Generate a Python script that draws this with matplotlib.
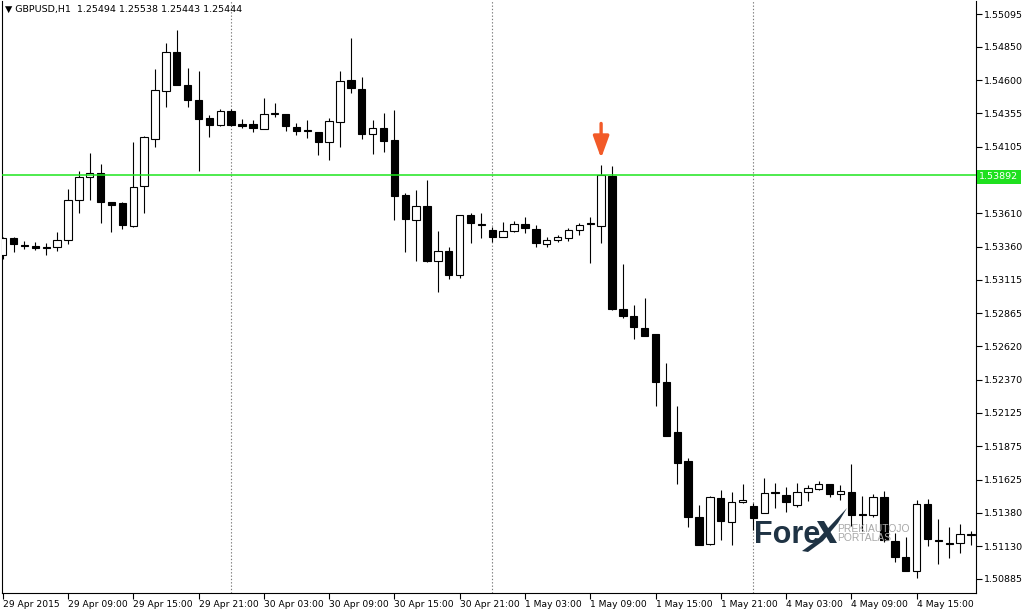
import numpy as np
import matplotlib.pyplot as plt
from matplotlib.patches import Rectangle, Polygon
import matplotlib.transforms as mtransforms

# GBPUSD H1 candles, first bar = 29 Apr 2015 03:00
opens = [1.53299, 1.53426, 1.53377, 1.53366, 1.53362, 1.53359, 1.53411, 1.53709, 1.53881, 1.53911,
         1.53694, 1.53687, 1.53515, 1.53813, 1.54164, 1.54521, 1.54812, 1.54566, 1.54454, 1.54320,
         1.54268, 1.54373, 1.54272, 1.54275, 1.54238, 1.54350, 1.54350, 1.54253, 1.54227, 1.54216,
         1.54141, 1.54290, 1.54603, 1.54536, 1.54201, 1.54245, 1.54156, 1.53746, 1.53560, 1.53664,
         1.53254, 1.53329, 1.53150, 1.53594, 1.53530, 1.53486, 1.53434, 1.53478, 1.53530, 1.53493,
         1.53381, 1.53411, 1.53426, 1.53486, 1.53534, 1.53515, 1.53888, 1.52896, 1.52844, 1.52755,
         1.52710, 1.52353, 1.51980, 1.51764, 1.51347, 1.51146, 1.51489, 1.51310, 1.51459, 1.51429,
         1.51377, 1.51533, 1.51511, 1.51436, 1.51533, 1.51556, 1.51593, 1.51518, 1.51533, 1.51369,
         1.51362, 1.51496, 1.51168, 1.51049, 1.50945, 1.51444, 1.51172, 1.51153, 1.51153, 1.51217]
highs = [1.53434, 1.53434, 1.53404, 1.53396, 1.53389, 1.53471, 1.53791, 1.53926, 1.54060, 1.53977,
         1.53697, 1.53694, 1.54141, 1.54184, 1.54685, 1.54879, 1.54976, 1.54692, 1.54671, 1.54343,
         1.54387, 1.54387, 1.54313, 1.54305, 1.54469, 1.54432, 1.54352, 1.54283, 1.54305, 1.54218,
         1.54320, 1.54671, 1.54916, 1.54625, 1.54305, 1.54358, 1.54380, 1.53761, 1.53784, 1.53858,
         1.53478, 1.53359, 1.53600, 1.53613, 1.53613, 1.53508, 1.53545, 1.53553, 1.53583, 1.53523,
         1.53434, 1.53449, 1.53501, 1.53538, 1.53583, 1.53970, 1.53963, 1.53232, 1.52926, 1.52979,
         1.52712, 1.52494, 1.52174, 1.51787, 1.51436, 1.51501, 1.51548, 1.51533, 1.51593, 1.51451,
         1.51638, 1.51600, 1.51571, 1.51600, 1.51586, 1.51615, 1.51595, 1.51586, 1.51742, 1.51504,
         1.51518, 1.51541, 1.51228, 1.51198, 1.51474, 1.51481, 1.51332, 1.51272, 1.51295, 1.51243]
lows = [1.53269, 1.53321, 1.53344, 1.53336, 1.53299, 1.53329, 1.53381, 1.53613, 1.53709, 1.53538,
        1.53471, 1.53493, 1.53508, 1.53613, 1.54104, 1.54402, 1.54563, 1.54402, 1.53926, 1.54179,
        1.54260, 1.54264, 1.54245, 1.54216, 1.54236, 1.54328, 1.54223, 1.54194, 1.54171, 1.54045,
        1.54007, 1.54104, 1.54506, 1.54164, 1.54052, 1.54067, 1.53560, 1.53321, 1.53254, 1.53247,
        1.53023, 1.53120, 1.53128, 1.53389, 1.53426, 1.53396, 1.53430, 1.53471, 1.53463, 1.53359,
        1.53359, 1.53396, 1.53404, 1.53449, 1.53240, 1.53389, 1.52893, 1.52829, 1.52673, 1.52693,
        1.52174, 1.51948, 1.51593, 1.51272, 1.51135, 1.51138, 1.51176, 1.51138, 1.51451, 1.51250,
        1.51375, 1.51414, 1.51384, 1.51421, 1.51466, 1.51548, 1.51496, 1.51474, 1.51280, 1.51243,
        1.51347, 1.51161, 1.51012, 1.50942, 1.50893, 1.51131, 1.50997, 1.51042, 1.51079, 1.51138]
closes = [1.53426, 1.53381, 1.53366, 1.53355, 1.53351, 1.53411, 1.53709, 1.53881, 1.53911, 1.53694,
          1.53672, 1.53523, 1.53806, 1.54179, 1.54529, 1.54812, 1.54566, 1.54454, 1.54313, 1.54268,
          1.54373, 1.54268, 1.54264, 1.54245, 1.54350, 1.54358, 1.54260, 1.54223, 1.54220, 1.54141,
          1.54298, 1.54596, 1.54543, 1.54201, 1.54245, 1.54149, 1.53739, 1.53567, 1.53664, 1.53254,
          1.53329, 1.53150, 1.53598, 1.53538, 1.53523, 1.53434, 1.53478, 1.53530, 1.53501, 1.53389,
          1.53411, 1.53434, 1.53486, 1.53523, 1.53527, 1.53892, 1.52896, 1.52844, 1.52763, 1.52696,
          1.52353, 1.51951, 1.51749, 1.51347, 1.51138, 1.51496, 1.51317, 1.51459, 1.51474, 1.51340,
          1.51526, 1.51526, 1.51459, 1.51533, 1.51563, 1.51593, 1.51518, 1.51541, 1.51362, 1.51362,
          1.51496, 1.51176, 1.51049, 1.50945, 1.51444, 1.51183, 1.51165, 1.51146, 1.51220, 1.51210]

time_labels = ['29 Apr 2015', '29 Apr 09:00', '29 Apr 15:00', '29 Apr 21:00', '30 Apr 03:00',
               '30 Apr 09:00', '30 Apr 15:00', '30 Apr 21:00', '1 May 03:00', '1 May 09:00',
               '1 May 15:00', '1 May 21:00', '4 May 03:00', '4 May 09:00', '4 May 15:00']
price_ticks = [1.55095, 1.54850, 1.54600, 1.54355, 1.54105, 1.53860, 1.53610, 1.53360, 1.53115,
               1.52865, 1.52620, 1.52370, 1.52125, 1.51875, 1.51625, 1.51380, 1.51130, 1.50885]
day_breaks = [21, 45, 69]   # bar index where a new day starts
level = 1.53892
signal_bar = 55

W, H = 1024, 611
fig = plt.figure(figsize=(W / 100, H / 100), dpi=100)
ax = fig.add_axes([2 / W, (H - 592.5) / H, 974 / W, 592 / H])

font = 'DejaVu Sans'

# candles
n = len(opens)
for i in range(n):
    o, h, l, c = opens[i], highs[i], lows[i], closes[i]
    ax.plot([i, i], [l, h], color='black', lw=0.8, zorder=2, solid_capstyle='butt')
    bottom = min(o, c)
    height = max(abs(c - o), 0.00002)
    fc = 'white' if c > o else 'black'
    ax.add_patch(Rectangle((i - 0.34, bottom), 0.68, height, facecolor=fc,
                           edgecolor='black', lw=0.8, zorder=3))

# day separators
for d in day_breaks:
    ax.axvline(d, color='#7a7a7a', lw=0.8, ls=(0, (1.2, 1.8)), zorder=1)

# horizontal level
ax.axhline(level, color='#1ee61e', lw=1.1, zorder=4)

ax.set_xlim(-0.064, 89.457)
ax.set_ylim(1.507844, 1.551956)

ax.set_xticks(range(0, 6 * len(time_labels), 6))
ax.set_xticklabels(time_labels, ha='left', fontsize=6.6, family=font)
ax.yaxis.tick_right()
ax.set_yticks(price_ticks)
# the tick under the level tag is hidden by the tag itself
ax.set_yticklabels(['' if abs(v - level) < 0.0005 else f'{v:.5f}' for v in price_ticks],
                   fontsize=6.8, family=font)
ax.tick_params(axis='both', direction='out', length=4, width=0.8, color='black', pad=2)
ax.tick_params(axis='x', pad=1.5)

for s in ['left', 'right', 'bottom']:
    ax.spines[s].set_linewidth(0.8)
ax.spines['top'].set_visible(False)

# level price tag on the right scale
trans = mtransforms.blended_transform_factory(ax.transAxes, ax.transData)
ax.text(1.0035, level - 0.0001, f'{level:.5f}', transform=trans, fontsize=6.8, family=font,
        color='white', va='center', ha='left', clip_on=False, zorder=10,
        bbox=dict(boxstyle='square,pad=0.25', facecolor='#1fe01f', edgecolor='none'))

# red arrow above the signal candle
ax.annotate('', xy=(signal_bar, highs[signal_bar] + 0.0003),
            xytext=(signal_bar, highs[signal_bar] + 0.0033),
            arrowprops=dict(arrowstyle='-|>,head_width=0.4,head_length=1.1',
                            color='#f25a28', lw=2.4, mutation_scale=12),
            zorder=6)

# chart header
fig.text(5 / W, 1 - 9 / H, '\u25bc GBPUSD,H1  1.25494 1.25538 1.25443 1.25444',
         fontsize=6.8, family=font, va='center', ha='left')

# watermark logo
def px(x, y):
    return (x / W, 1 - y / H)

logo = '#1f3344'
fig.text(*px(754, 543), 'Fore', fontsize=22, fontweight='bold', family='Liberation Sans',
         color=logo, va='baseline', ha='left')
fig.patches.append(Polygon([px(817, 521), px(824, 521), px(837, 543), px(830, 543)],
                           closed=True, facecolor=logo, transform=fig.transFigure,
                           figure=fig))
fig.patches.append(Polygon([px(802, 551), px(816, 541), px(831, 525), px(847, 508),
                            px(838, 523), px(823, 541), px(808, 552)],
                           closed=True, facecolor=logo, transform=fig.transFigure,
                           figure=fig))
fig.text(*px(837, 532), 'PREKIAUTOJO', fontsize=7.4, family='Liberation Sans',
         color='#a8a8a8', va='baseline', ha='left')
fig.text(*px(837, 541), 'PORTALAS', fontsize=7.4, family='Liberation Sans',
         color='#a8a8a8', va='baseline', ha='left')

fig.savefig('out.png', dpi=100, facecolor='white')
